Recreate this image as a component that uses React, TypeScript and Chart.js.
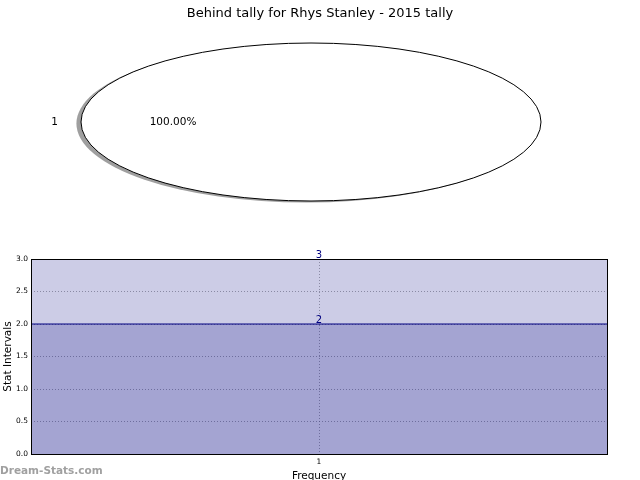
import React, { useEffect, useRef } from 'react';
import { Chart, registerables } from 'chart.js';

Chart.register(...registerables);

const TITLE = 'Behind tally for Rhys Stanley - 2015 tally';
const PIE_LABELS = ['1'];
const PIE_VALUES = [1];
const PIE_PCT = ['100.00%'];

const X_LABELS = ['', '1', ''];
const MAX_VALUES = [3, 3, 3];
const TALLY_VALUES = [2, 2, 2];
const LABEL_INDEX = 1;
const Y_MIN = 0;
const Y_MAX = 3;
const Y_STEP = 0.5;
const X_TITLE = 'Frequency';
const Y_TITLE = 'Stat Intervals';
const WATERMARK = 'Dream-Stats.com';

const FONT = "'DejaVu Sans', sans-serif";
const NAVY = '#000080';
const FILL = 'rgba(0,0,128,0.2)';
const GRID = 'rgba(128,128,128,0.65)';

const ellipsePie = {
  id: 'ellipsePie',
  beforeDatasetsDraw(chart: any) {
    const arc = chart.getDatasetMeta(0).data[0];
    const ctx = chart.ctx;
    ctx.save();
    if (!arc) return;
    const { x, y, outerRadius } = arc.getProps(['x', 'y', 'outerRadius'], true);
    const rx = chart.chartArea.width / 2;
    const ry = outerRadius;
    ctx.fillStyle = 'rgba(80,80,80,0.55)';
    ctx.beginPath();
    ctx.ellipse(x - 0.02 * rx, y + 0.02 * ry, rx, ry, 0, 0, Math.PI * 2);
    ctx.fill();
    ctx.translate(x, y);
    ctx.scale(rx / ry, 1);
    ctx.translate(-x, -y);
  },
  afterDatasetsDraw(chart: any) {
    const ctx = chart.ctx;
    ctx.restore();
    const arc = chart.getDatasetMeta(0).data[0];
    if (!arc) return;
    const { x, y, outerRadius } = arc.getProps(['x', 'y', 'outerRadius'], true);
    const rx = chart.chartArea.width / 2;
    const ry = outerRadius;
    ctx.save();
    ctx.strokeStyle = '#000';
    ctx.lineWidth = 1;
    ctx.beginPath();
    ctx.ellipse(x, y, rx, ry, 0, 0, Math.PI * 2);
    ctx.stroke();
    ctx.fillStyle = '#000';
    ctx.font = `10.5px ${FONT}`;
    ctx.textBaseline = 'middle';
    ctx.textAlign = 'right';
    ctx.fillText(PIE_LABELS[0], x - 1.1 * rx, y);
    ctx.textAlign = 'center';
    ctx.fillText(PIE_PCT[0], x - 0.6 * rx, y);
    ctx.restore();
  },
  afterDraw(chart: any) {
    const ctx = chart.ctx;
    ctx.save();
    ctx.fillStyle = '#000';
    ctx.font = `13px ${FONT}`;
    ctx.textAlign = 'center';
    ctx.textBaseline = 'middle';
    ctx.fillText(TITLE, chart.width / 2, 14);
    ctx.restore();
  },
};

const frameAndLabels = {
  id: 'frameAndLabels',
  afterDatasetsDraw(chart: any) {
    const ctx = chart.ctx;
    ctx.save();
    ctx.font = `10px ${FONT}`;
    ctx.fillStyle = NAVY;
    ctx.textAlign = 'center';
    ctx.textBaseline = 'alphabetic';
    chart.data.datasets.forEach((ds: any, i: number) => {
      const pt = chart.getDatasetMeta(i).data[LABEL_INDEX];
      if (!pt) return;
      ctx.fillText(String(ds.data[LABEL_INDEX]), pt.x, pt.y - 1);
    });
    ctx.restore();
  },
  afterDraw(chart: any) {
    const { left, right, top, bottom } = chart.chartArea;
    const ctx = chart.ctx;
    ctx.save();
    ctx.strokeStyle = '#000';
    ctx.lineWidth = 1;
    ctx.strokeRect(Math.round(left) + 0.5, Math.round(top) + 0.5, Math.round(right - left), Math.round(bottom - top));
    ctx.restore();
  },
};

export default function App() {
  const pieRef = useRef<HTMLCanvasElement>(null);
  const areaRef = useRef<HTMLCanvasElement>(null);

  useEffect(() => {
    const pie = new Chart(pieRef.current!, {
      type: 'pie',
      data: {
        labels: PIE_LABELS,
        datasets: [
          {
            data: PIE_VALUES,
            backgroundColor: '#ffffff',
            borderWidth: 0,
            clip: false,
          } as any,
        ],
      },
      options: {
        responsive: false,
        animation: false,
        events: [],
        layout: { padding: { left: 81, right: 99, top: 43, bottom: 39 } },
        plugins: {
          legend: { display: false },
          title: { display: false },
          tooltip: { enabled: false },
        },
      },
      plugins: [ellipsePie],
    });

    const area = new Chart(areaRef.current!, {
      type: 'line',
      data: {
        labels: X_LABELS,
        datasets: [
          {
            data: MAX_VALUES,
            fill: 'origin',
            backgroundColor: FILL,
            borderColor: 'transparent',
            borderWidth: 0,
            pointRadius: 0,
          },
          {
            data: TALLY_VALUES,
            fill: 'origin',
            backgroundColor: FILL,
            borderColor: NAVY,
            borderWidth: 1,
            pointRadius: 0,
          },
        ],
      },
      options: {
        responsive: false,
        animation: false,
        events: [],
        layout: { padding: { left: 0, right: 33, top: 19, bottom: 0 } },
        plugins: {
          legend: { display: false },
          title: { display: false },
          tooltip: { enabled: false },
        },
        scales: {
          x: {
            type: 'category',
            offset: false,
            grid: {
              drawTicks: false,
              color: (c: any) => (c.index === LABEL_INDEX ? GRID : 'transparent'),
              lineWidth: 1,
            },
            border: { display: false, dash: [1, 2] },
            ticks: {
              autoSkip: false,
              maxRotation: 0,
              padding: 4,
              color: '#000',
              font: { family: FONT, size: 7.5 },
            },
            title: {
              display: true,
              text: X_TITLE,
              color: '#000',
              font: { family: FONT, size: 10.5, lineHeight: 0.8 },
              padding: { top: 0, bottom: 0 },
            },
            afterFit: (s: any) => {
              s.height = 26;
            },
          },
          y: {
            min: Y_MIN,
            max: Y_MAX,
            grid: { drawTicks: false, color: GRID, lineWidth: 1 },
            border: { display: false, dash: [1, 2] },
            ticks: {
              stepSize: Y_STEP,
              padding: 3,
              color: '#000',
              font: { family: FONT, size: 7.5 },
              callback: (v: any) => Number(v).toFixed(1),
            },
            title: {
              display: true,
              text: Y_TITLE,
              color: '#000',
              font: { family: FONT, size: 10.5 },
              padding: { top: 2, bottom: 0 },
            },
            afterFit: (s: any) => {
              s.width = 31;
            },
          },
        },
      },
      plugins: [frameAndLabels],
    });

    return () => {
      pie.destroy();
      area.destroy();
    };
  }, []);

  return (
    <div
      style={{
        position: 'fixed',
        left: 0,
        top: 0,
        width: 640,
        height: 480,
        background: '#fff',
        overflow: 'hidden',
      }}
    >
      <canvas
        ref={pieRef}
        width={640}
        height={240}
        style={{ position: 'absolute', left: 0, top: 0, width: 640, height: 240 }}
      />
      <canvas
        ref={areaRef}
        width={640}
        height={240}
        style={{ position: 'absolute', left: 0, top: 240, width: 640, height: 240 }}
      />
      <div
        style={{
          position: 'absolute',
          left: 0,
          top: 462,
          fontFamily: FONT,
          fontWeight: 'bold',
          fontSize: 10.5,
          color: '#a0a0a0',
          lineHeight: '16px',
          whiteSpace: 'nowrap',
        }}
      >
        {WATERMARK}
      </div>
    </div>
  );
}
